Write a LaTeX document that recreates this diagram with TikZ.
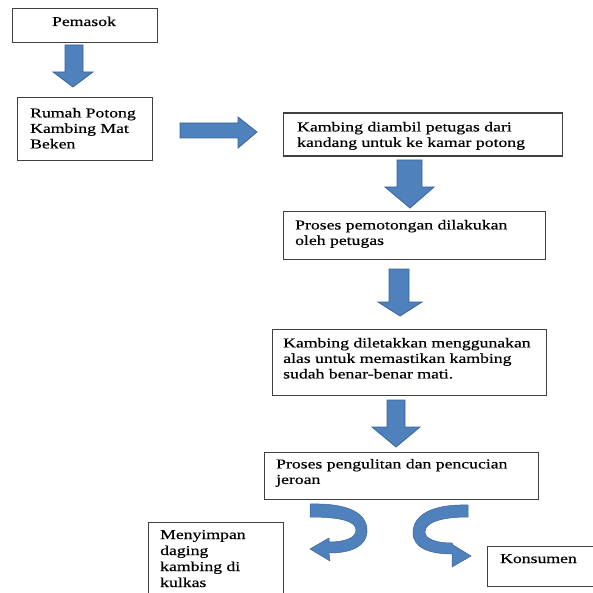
\documentclass[tikz,border=0pt]{standalone}
\usepackage{fontspec}
\setmainfont{Liberation Serif}[FakeStretch=1.3,FakeBold=0.4]
\definecolor{arrfill}{HTML}{4F81BD}
\definecolor{arrline}{HTML}{3A6496}
\definecolor{boxline}{HTML}{404040}
\begin{document}
\begin{tikzpicture}[x=1pt,y=-1pt,
  box/.style={draw=boxline,line width=1.1pt,fill=white,rectangle,inner sep=0pt},
  txt/.style={inner sep=0pt,align=left,anchor=north west,text=black,
    font=\fontsize{13.6}{15.5}\selectfont},
  barrow/.style={fill=arrfill,draw=arrline,line width=0.8pt,line join=miter},
  carrow/.style={fill=arrfill,draw=arrline,line width=0.5pt,line join=round}]
\useasboundingbox (0,0) rectangle (593,593);
\clip (0,0) rectangle (593,593);
% boxes
\node[box,minimum width=145pt,minimum height=34pt,anchor=north west] (b1) at (12,8) {};
\node[box,minimum width=135pt,minimum height=63pt,anchor=north west] (b2) at (17,97) {};
\node[box,minimum width=279pt,minimum height=43pt,anchor=north west] (b3) at (283,112.5) {};
\node[box,minimum width=262pt,minimum height=48pt,anchor=north west] (b4) at (283,211) {};
\node[box,minimum width=274pt,minimum height=66pt,anchor=north west] (b5) at (272,329) {};
\node[box,minimum width=274pt,minimum height=47pt,anchor=north west] (b6) at (264,452) {};
\node[box,minimum width=135pt,minimum height=80pt,anchor=north west] (b7) at (148,522) {};
\node[box,minimum width=110pt,minimum height=40pt,anchor=north west] (b8) at (487,546) {};
% texts
\node[txt,anchor=base] (t1) at (84,26) {Pemasok};
\node[txt] (t2) at (30,107.8) {Rumah Potong\\Kambing Mat\\Beken};
\node[txt] (t3) at (297,121.8) {Kambing diambil petugas dari\\kandang untuk ke kamar potong};
\node[txt] (t4) at (295,219.8) {Proses pemotongan dilakukan\\oleh petugas};
\node[txt] (t5) at (283,337.8) {Kambing diletakkan menggunakan\\alas untuk memastikan kambing\\sudah benar-benar mati.};
\node[txt] (t6) at (276,458.8) {Proses pengulitan dan pencucian\\jeroan};
\node[txt,font=\fontsize{13.6}{16}\selectfont] (t7) at (160,529.8) {Menyimpan\\daging\\kambing di\\kulkas};
\node[txt,anchor=base west] (t8) at (500,563) {Konsumen};
% block arrows
\draw[barrow] (65,45) -- (83,45) -- (83,72) -- (93,72) -- (73,87) -- (53,72) -- (65,72) -- cycle;
\draw[barrow] (180,123) -- (238,123) -- (238,117) -- (257,132) -- (238,148) -- (238,138) -- (180,138) -- cycle;
\draw[barrow] (397,160) -- (422,160) -- (422,187) -- (434,187) -- (410,208) -- (385,187) -- (397,187) -- cycle;
\draw[barrow] (389,269) -- (409,269) -- (409,302) -- (422,302) -- (400,316) -- (378,302) -- (389,302) -- cycle;
\draw[barrow] (387,400) -- (405,400) -- (405,427) -- (420,427) -- (396,447) -- (372,427) -- (387,427) -- cycle;
% curved arrows
\draw[carrow] (310,504) .. controls (350,503) and (368,514) .. (367,532)
  .. controls (366,546) and (352,553) .. (329,553) -- (330,561) -- (310,549)
  -- (329,538) -- (329,542) .. controls (345,542) and (356,538) .. (356,530)
  .. controls (356,521) and (340,517) .. (310,517) -- cycle;
\draw[carrow] (468,505) .. controls (430,504) and (413,516) .. (413,533)
  .. controls (413,548) and (430,554) .. (452,554) -- (452,567) -- (471,556)
  -- (453,545) -- (452,543) .. controls (436,543) and (425,539) .. (425,532)
  .. controls (425,522) and (442,517) .. (468,517) -- cycle;
\end{tikzpicture}
\end{document}
